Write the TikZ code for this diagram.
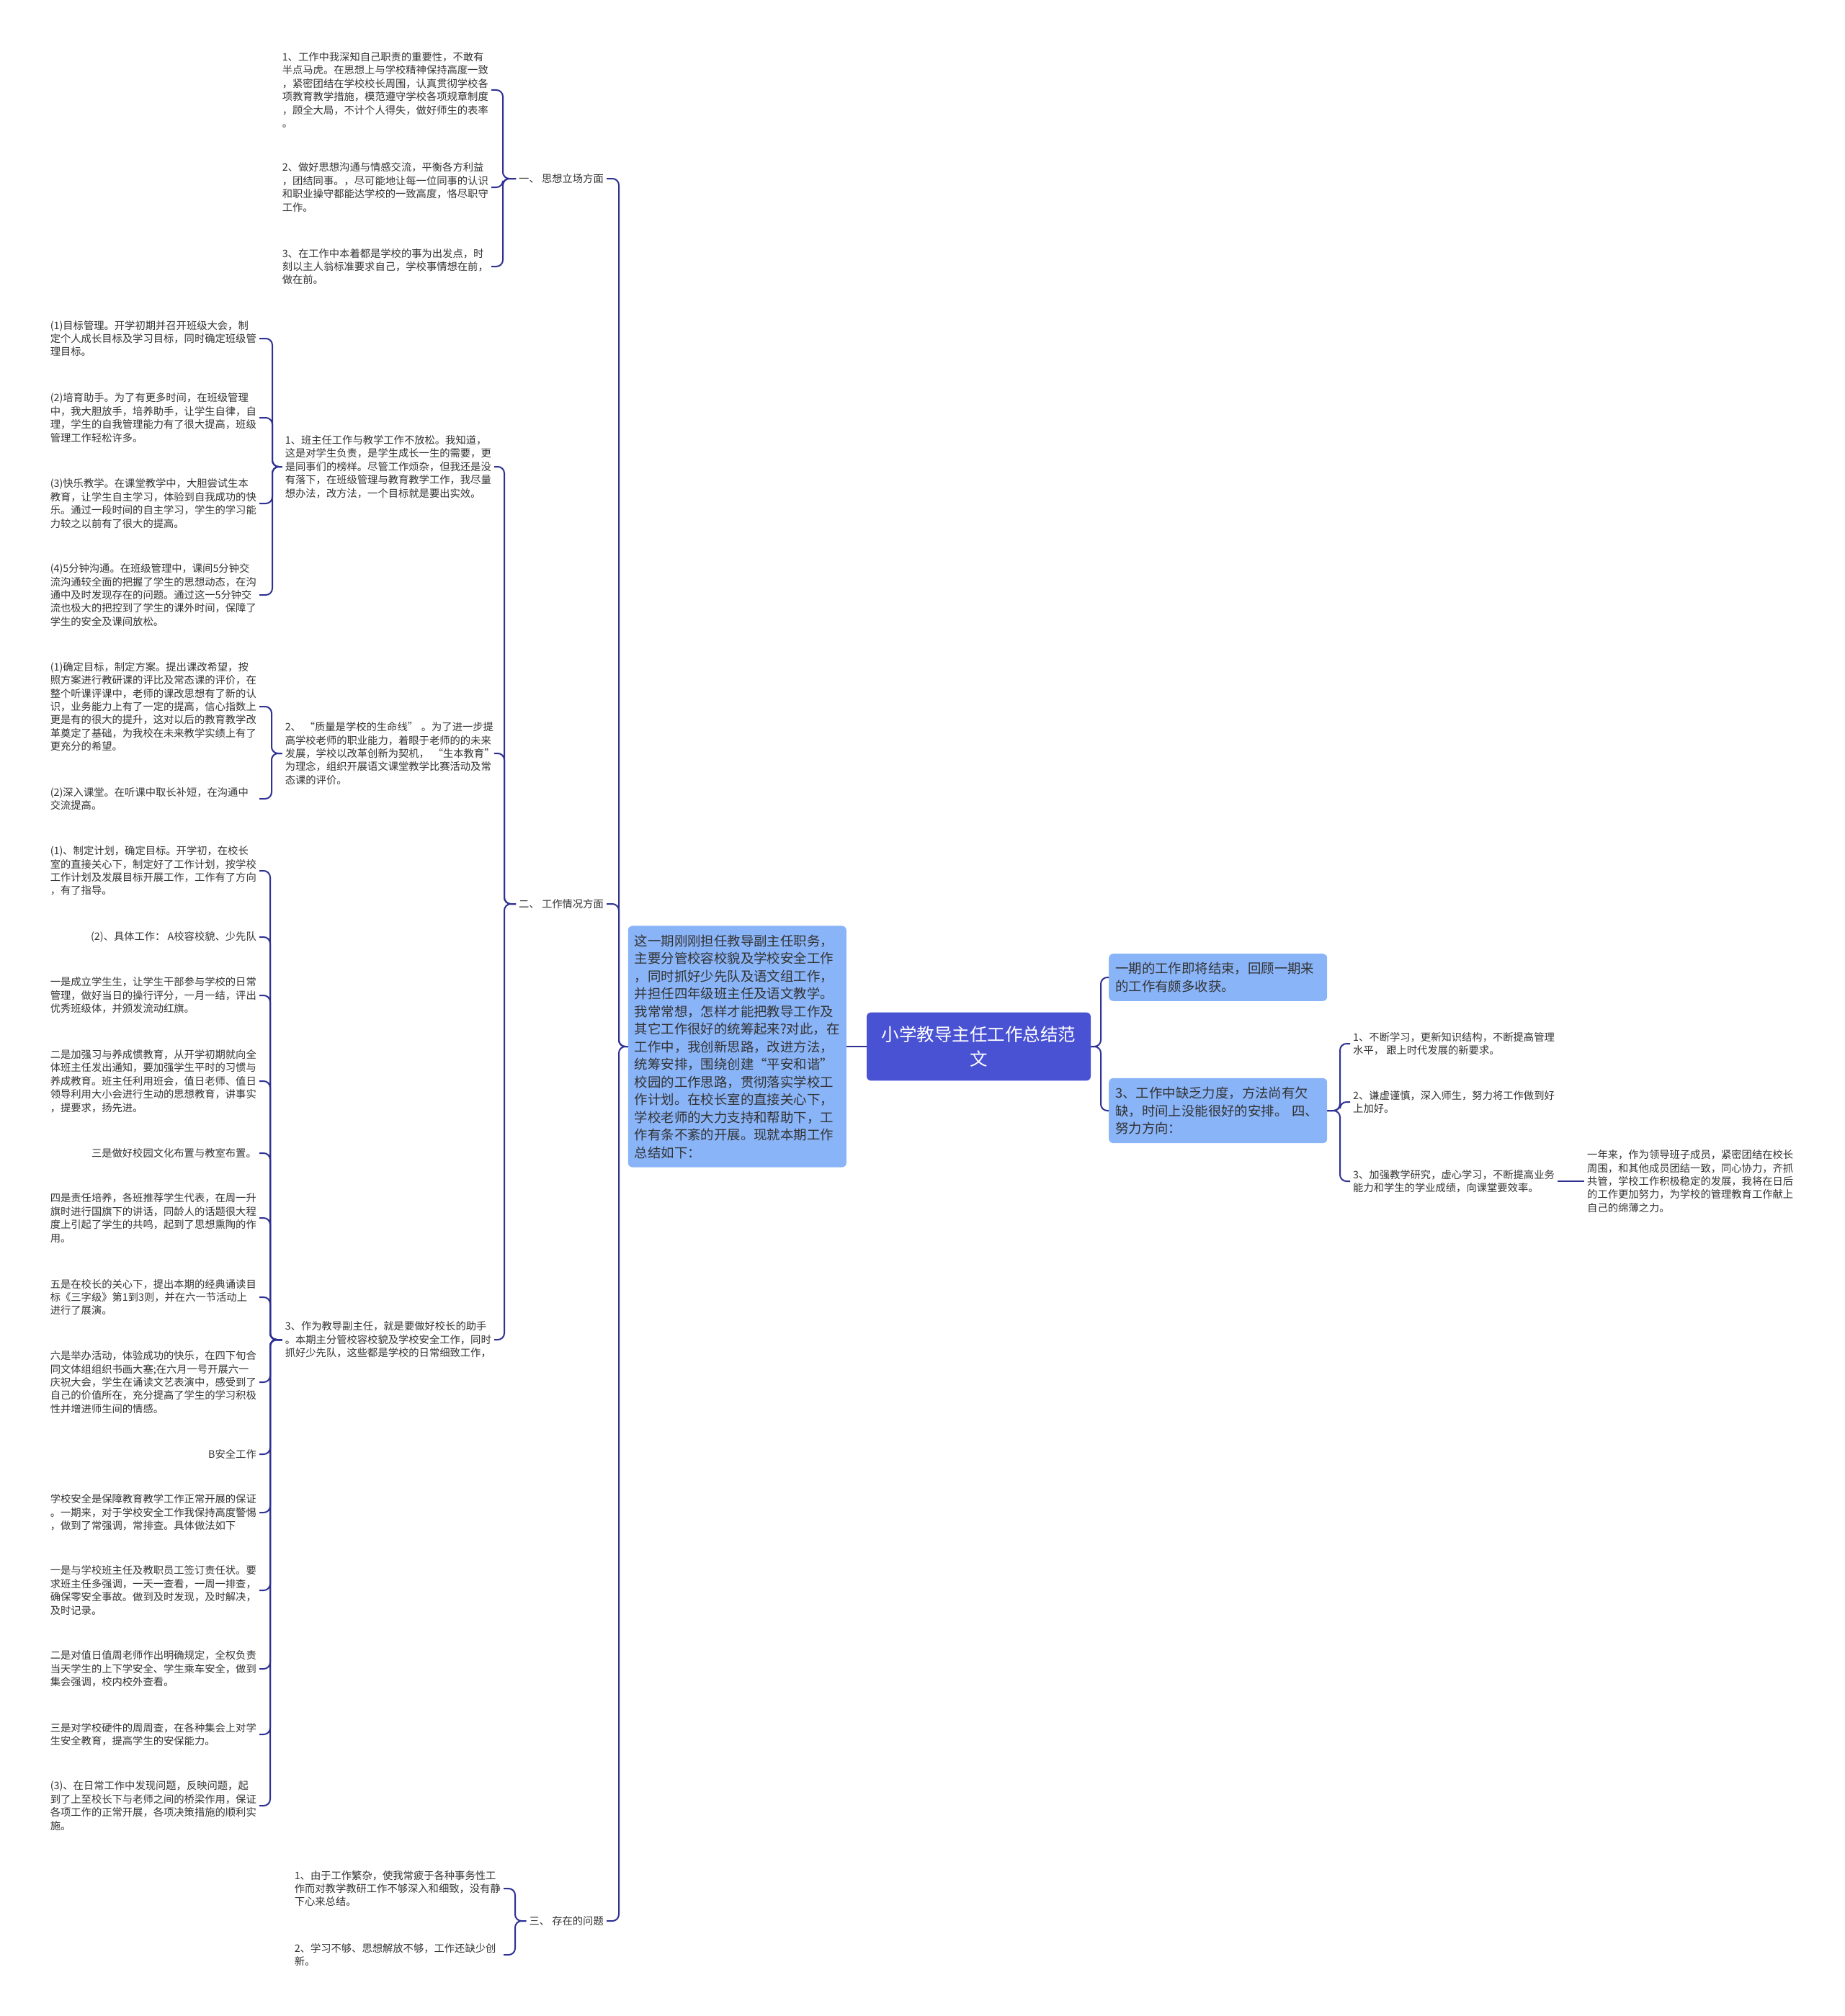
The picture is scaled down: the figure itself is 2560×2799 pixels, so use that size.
\documentclass[tikz,border=0pt]{standalone}
\usepackage{fontspec}
\setmainfont{Noto Sans CJK SC}
\usepackage{tikz}

% 色の定義
\definecolor{linkblue}{HTML}{2E3192}
\definecolor{rootblue}{HTML}{4A52D4}
\definecolor{boxblue}{HTML}{8AB4F8}
\definecolor{textgray}{HTML}{333333}

% 文字の大きさ
\newcommand{\leaffont}{\fontsize{14.3}{18.4}\selectfont}
\newcommand{\boxfont}{\fontsize{18.4}{24.5}\selectfont}
\newcommand{\rootfont}{\fontsize{24.5}{34}\selectfont}

\tikzset{
    leaf/.style={align=left, font=\leaffont, text=textgray, inner xsep=4pt, inner ysep=2pt},
    wideleaf/.style={leaf, text width=286pt},
    bluebox/.style={fill=boxblue, rounded corners=6pt, text width=285pt, align=left,
        inner xsep=9pt, inner ysep=12pt, font=\boxfont, text=textgray},
    rootbox/.style={fill=rootblue, rounded corners=6pt, text width=275pt, align=center,
        inner xsep=18pt, inner ysep=19pt, font=\rootfont, text=white},
    conn/.style={draw=linkblue, line width=2pt, rounded corners=9pt},
}

\begin{document}
\begin{tikzpicture}[x=1pt, y=-1pt]
    \fill[white] (0,0) rectangle (2560,2799);
    \useasboundingbox (0,0) rectangle (2560,2799);

    % 列の位置
    \pgfmathsetmacro{\xL}{360}
    \pgfmathsetmacro{\xA}{682}
    \pgfmathsetmacro{\xM}{686}
    \pgfmathsetmacro{\xF}{699}
    \pgfmathsetmacro{\xT}{842}
    \pgfmathsetmacro{\xR}{1539}
    \pgfmathsetmacro{\xS}{1874}

    % 中心
    \node[rootbox] (root) at (1358.5,1453) {小学教导主任工作总结范\\文};
    \node[bluebox, anchor=east] (intro) at (1175,1453) {这一期刚刚担任教导副主任职务，\\主要分管校容校貌及学校安全工作\\，同时抓好少先队及语文组工作，\\并担任四年级班主任及语文教学。\\我常常想，怎样才能把教导工作及\\其它工作很好的统筹起来?对此，在\\工作中，我创新思路，改进方法，\\统筹安排，围绕创建“平安和谐”\\校园的工作思路，贯彻落实学校工\\作计划。在校长室的直接关心下，\\学校老师的大力支持和帮助下，工\\作有条不紊的开展。现就本期工作\\总结如下：};

    % 左側の見出し
    \node[leaf, anchor=east] (g1) at (\xT,248) {一、 思想立场方面};
    \node[leaf, anchor=east] (g2) at (\xT,1255) {二、 工作情况方面};
    \node[leaf, anchor=east] (g3) at (\xT,2667) {三、 存在的问题};

    % 一、思想立场方面
    \node[wideleaf, anchor=east] (a1) at (\xA,125) {1、工作中我深知自己职责的重要性，不敢有\\半点马虎。在思想上与学校精神保持高度一致\\，紧密团结在学校校长周围，认真贯彻学校各\\项教育教学措施，模范遵守学校各项规章制度\\，顾全大局，不计个人得失，做好师生的表率\\。};
    \node[wideleaf, anchor=east] (a2) at (\xA,260) {2、做好思想沟通与情感交流，平衡各方利益\\，团结同事。，尽可能地让每一位同事的认识\\和职业操守都能达学校的一致高度，恪尽职守\\工作。};
    \node[wideleaf, anchor=east] (a3) at (\xA,370) {3、在工作中本着都是学校的事为出发点，时\\刻以主人翁标准要求自己，学校事情想在前，\\做在前。};

    % 二、工作情况方面
    \node[wideleaf, anchor=east] (b1) at (\xM,648) {1、班主任工作与教学工作不放松。我知道，\\这是对学生负责，是学生成长一生的需要，更\\是同事们的榜样。尽管工作烦杂，但我还是没\\有落下，在班级管理与教育教学工作，我尽量\\想办法，改方法，一个目标就是要出实效。};
    \node[wideleaf, anchor=east] (b2) at (\xM,1046) {2、~“质量是学校的生命线”~。为了进一步提\\高学校老师的职业能力，着眼于老师的的未来\\发展，学校以改革创新为契机，~“生本教育”\\为理念，组织开展语文课堂教学比赛活动及常\\态课的评价。};
    \node[wideleaf, anchor=east] (b3) at (\xM,1860) {3、作为教导副主任，就是要做好校长的助手\\。本期主分管校容校貌及学校安全工作，同时\\抓好少先队，这些都是学校的日常细致工作，};

    \node[wideleaf, anchor=east] (c1) at (\xL,470) {(1)目标管理。开学初期并召开班级大会，制\\定个人成长目标及学习目标，同时确定班级管\\理目标。};
    \node[wideleaf, anchor=east] (c2) at (\xL,580) {(2)培育助手。为了有更多时间，在班级管理\\中，我大胆放手，培养助手，让学生自律，自\\理，学生的自我管理能力有了很大提高，班级\\管理工作轻松许多。};
    \node[wideleaf, anchor=east] (c3) at (\xL,699) {(3)快乐教学。在课堂教学中，大胆尝试生本\\教育，让学生自主学习，体验到自我成功的快\\乐。通过一段时间的自主学习，学生的学习能\\力较之以前有了很大的提高。};
    \node[wideleaf, anchor=east] (c4) at (\xL,826) {(4)5分钟沟通。在班级管理中，课间5分钟交\\流沟通较全面的把握了学生的思想动态，在沟\\通中及时发现存在的问题。通过这一5分钟交\\流也极大的把控到了学生的课外时间，保障了\\学生的安全及课间放松。};

    \node[wideleaf, anchor=east] (d1) at (\xL,981) {(1)确定目标，制定方案。提出课改希望，按\\照方案进行教研课的评比及常态课的评价，在\\整个听课评课中，老师的课改思想有了新的认\\识，业务能力上有了一定的提高，信心指数上\\更是有的很大的提升，这对以后的教育教学改\\革奠定了基础，为我校在未来教学实绩上有了\\更充分的希望。};
    \node[wideleaf, anchor=east] (d2) at (\xL,1109) {(2)深入课堂。在听课中取长补短，在沟通中\\交流提高。};

    \node[wideleaf, anchor=east] (e1) at (\xL,1209) {(1)、制定计划，确定目标。开学初，在校长\\室的直接关心下，制定好了工作计划，按学校\\工作计划及发展目标开展工作，工作有了方向\\，有了指导。};
    \node[leaf, anchor=east] (e2) at (\xL,1301) {(2)、具体工作： A校容校貌、少先队};
    \node[wideleaf, anchor=east] (e3) at (\xL,1382) {一是成立学生生，让学生干部参与学校的日常\\管理，做好当日的操行评分，一月一结，评出\\优秀班级体，并颁发流动红旗。};
    \node[wideleaf, anchor=east] (e4) at (\xL,1501) {二是加强习与养成惯教育，从开学初期就向全\\体班主任发出通知，要加强学生平时的习惯与\\养成教育。班主任利用班会，值日老师、值日\\领导利用大小会进行生动的思想教育，讲事实\\，提要求，扬先进。};
    \node[leaf, anchor=east] (e5) at (\xL,1601) {三是做好校园文化布置与教室布置。};
    \node[wideleaf, anchor=east] (e6) at (\xL,1691) {四是责任培养，各班推荐学生代表，在周一升\\旗时进行国旗下的讲话，同龄人的话题很大程\\度上引起了学生的共鸣，起到了思想熏陶的作\\用。};
    \node[wideleaf, anchor=east] (e7) at (\xL,1801) {五是在校长的关心下，提出本期的经典诵读目\\标《三字级》第1到3则，并在六一节活动上\\进行了展演。};
    \node[wideleaf, anchor=east] (e8) at (\xL,1919) {六是举办活动，体验成功的快乐，在四下旬合\\同文体组组织书画大塞;在六月一号开展六一\\庆祝大会，学生在诵读文艺表演中，感受到了\\自己的价值所在，充分提高了学生的学习积极\\性并增进师生间的情感。};
    \node[leaf, anchor=east] (e9) at (\xL,2019) {B安全工作};
    \node[wideleaf, anchor=east] (e10) at (\xL,2100) {学校安全是保障教育教学工作正常开展的保证\\。一期来，对于学校安全工作我保持高度警惕\\，做到了常强调，常排查。具体做法如下};
    \node[wideleaf, anchor=east] (e11) at (\xL,2208) {一是与学校班主任及教职员工签订责任状。要\\求班主任多强调，一天一查看，一周一排查，\\确保零安全事故。做到及时发现，及时解决，\\及时记录。};
    \node[wideleaf, anchor=east] (e12) at (\xL,2317) {二是对值日值周老师作出明确规定，全权负责\\当天学生的上下学安全、学生乘车安全，做到\\集会强调，校内校外查看。};
    \node[wideleaf, anchor=east] (e13) at (\xL,2408) {三是对学校硬件的周周查，在各种集会上对学\\生安全教育，提高学生的安保能力。};
    \node[wideleaf, anchor=east] (e14) at (\xL,2507) {(3)、在日常工作中发现问题，反映问题，起\\到了上至校长下与老师之间的桥梁作用，保证\\各项工作的正常开展，各项决策措施的顺利实\\施。};

    % 三、存在的问题
    \node[wideleaf, anchor=east] (f1) at (\xF,2622) {1、由于工作繁杂，使我常疲于各种事务性工\\作而对教学教研工作不够深入和细致，没有静\\下心来总结。};
    \node[wideleaf, anchor=east] (f2) at (\xF,2714) {2、学习不够、思想解放不够，工作还缺少创\\新。};

    % 右側
    \node[bluebox, anchor=west] (r1) at (\xR,1357) {一期的工作即将结束，回顾一期来\\的工作有颇多收获。};
    \node[bluebox, anchor=west] (r2) at (\xR,1542) {3、工作中缺乏力度，方法尚有欠\\缺，时间上没能很好的安排。~四、\\努力方向：};
    \node[leaf, anchor=west] (s1) at (\xS,1449) {1、不断学习，更新知识结构，不断提高管理\\水平， 跟上时代发展的新要求。};
    \node[leaf, anchor=west] (s2) at (\xS,1530) {2、谦虚谨慎，深入师生，努力将工作做到好\\上加好。};
    \node[leaf, anchor=west] (s3) at (\xS,1640) {3、加强教学研究，虚心学习，不断提高业务\\能力和学生的学业成绩，向课堂要效率。};
    \node[leaf, anchor=west] (t1) at (2199,1640) {一年来，作为领导班子成员，紧密团结在校长\\周围，和其他成员团结一致，同心协力，齐抓\\共管，学校工作积极稳定的发展，我将在日后\\的工作更加努力，为学校的管理教育工作献上\\自己的绵薄之力。};

    % 線の描画
    \draw[conn] (intro.east) -- (root.west);
    \foreach \g in {g1,g2,g3} \draw[conn] (\g.east) -- ++(17,0) |- (intro.west);
    \foreach \a in {a1,a2,a3} \draw[conn] (\a.east) -- ++(16,0) |- (g1.west);
    \foreach \b in {b1,b2,b3} \draw[conn] (\b.east) -- ++(14,0) |- (g2.west);
    \foreach \c in {c1,c2,c3,c4} \draw[conn] (\c.east) -- ++(18,0) |- (b1.west);
    \foreach \d in {d1,d2} \draw[conn] (\d.east) -- ++(17,0) |- (b2.west);
    \foreach \n in {1,...,14} \draw[conn] (e\n.east) -- ++(15,0) |- (b3.west);
    \foreach \f in {f1,f2} \draw[conn] (\f.east) -- ++(16,0) |- (g3.west);
    \foreach \r in {r1,r2} \draw[conn] (\r.west) -- ++(-11,0) |- (root.east);
    \foreach \s in {s1,s2,s3} \draw[conn] (\s.west) -- ++(-14,0) |- (r2.east);
    \draw[conn] (s3.east) -- (t1.west);

\end{tikzpicture}
\end{document}
